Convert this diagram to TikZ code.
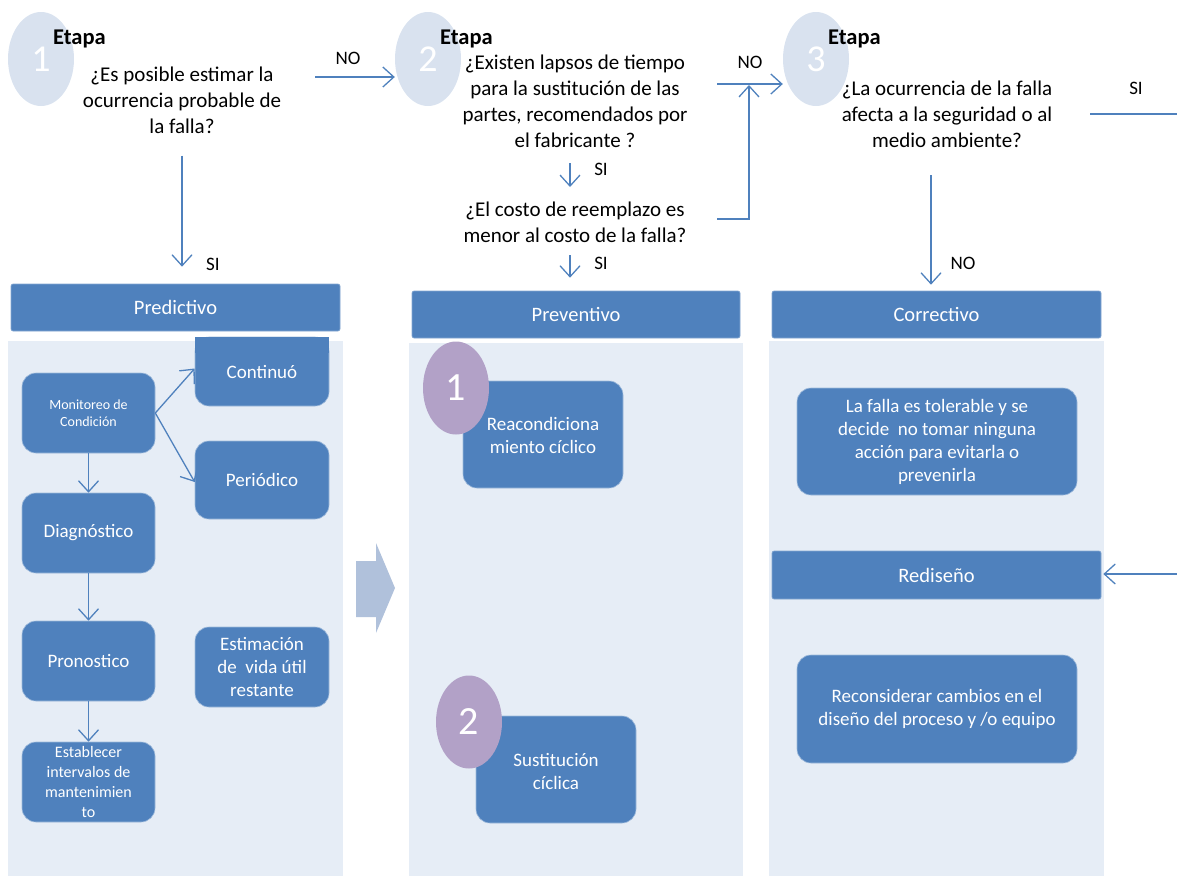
\documentclass[tikz,border=0pt]{standalone}
\usepackage{fontspec}
\setmainfont{Carlito}
\usetikzlibrary{arrows.meta,shapes.geometric}
\definecolor{mblue}{HTML}{4F81BD}
\definecolor{panelbg}{HTML}{E6EDF6}
\definecolor{circbg}{HTML}{D9E2EF}
\definecolor{purp}{HTML}{B2A1C7}
\definecolor{bigarr}{HTML}{B0C1DB}
\begin{document}
\begin{tikzpicture}[x=1pt,y=-1pt,
  qtext/.style={align=center, font=\fontsize{21}{26}\selectfont, inner sep=0pt},
  lbl/.style={font=\fontsize{19}{23}\selectfont, inner sep=0pt},
  etapa/.style={font=\fontsize{22.5}{24}\selectfont\bfseries, inner sep=0pt, anchor=base west},
  stagecirc/.style={ellipse, fill=circbg, minimum width=66pt, minimum height=94pt, inner sep=0pt, text=white, font=\fontsize{38}{40}\selectfont},
  numcirc/.style={ellipse, fill=purp, minimum width=66pt, minimum height=93pt, inner sep=0pt, text=white, font=\fontsize{40}{42}\selectfont},
  header/.style={fill=mblue, draw=mblue!70!white, line width=0.6pt, rounded corners=2pt, text=white, font=\fontsize{20.5}{24}\selectfont, inner sep=0pt},
  rbox/.style={fill=mblue, draw=mblue!55!white, line width=0.6pt, rounded corners=14pt, text=white, align=center, font=\fontsize{19}{23}\selectfont, inner sep=0pt},
  btext/.style={text=white, align=center, font=\fontsize{19}{23}\selectfont, inner sep=0pt},
  arr/.style={draw=mblue, line width=1.3pt, -{Straight Barb[length=11pt,width=20pt,line width=1.3pt]}},
  ln/.style={draw=mblue, line width=1.3pt}
]
\useasboundingbox (0,0) rectangle (1177,876);

% panels
\fill[panelbg] (8,341) rectangle (343,876);
\fill[panelbg] (409,343) rectangle (743,876);
\fill[panelbg] (769,341) rectangle (1104,876);

% stage circles
\node[stagecirc] (c1) at (41,59) {1};
\node[stagecirc] (c2) at (428,59) {2};
\node[stagecirc] (c3) at (816,59) {3};
\node[etapa] (e1) at (53,44) {Etapa};
\node[etapa] (e2) at (440,44) {Etapa};
\node[etapa] (e3) at (828,44) {Etapa};

% questions
\node[qtext] (q1) at (182,100) {¿Es posible estimar la\\ocurrencia probable de\\la falla?};
\node[qtext] (q2) at (575,101) {¿Existen lapsos de tiempo\\para la sustitución de las\\partes, recomendados por\\el fabricante ?};
\node[qtext] (q3) at (575,222) {¿El costo de reemplazo es\\menor al costo de la falla?};
\node[qtext] (q4) at (947,114) {¿La ocurrencia de la falla\\afecta a la seguridad o al\\medio ambiente?};

% headers
\node[header, minimum width=329pt, minimum height=47pt] (pred) at (175.5,307.5) {Predictivo};
\node[header, minimum width=328pt, minimum height=47pt] (prev) at (576,314.5) {Preventivo};
\node[header, minimum width=329pt, minimum height=47pt] (corr) at (936.5,314.5) {Correctivo};
\node[header, minimum width=329pt, minimum height=48pt] (redis) at (936.5,575) {Rediseño};

% predictive boxes
\node[rbox, minimum width=133pt, minimum height=80pt, font=\fontsize{14}{17}\selectfont] (mon) at (88.5,413) {Monitoreo de\\Condición};
\node[rbox, minimum width=134pt, minimum height=69pt] (cont) at (262,371.5) {};
\fill[mblue] (cont.north west) rectangle ([yshift=-16pt]cont.north east);
\node[btext] (contt) at (cont.center) {Continuó};
\node[rbox, minimum width=134pt, minimum height=78pt] (per) at (262,480) {Periódico};
\node[rbox, minimum width=133pt, minimum height=80pt] (diag) at (88.5,533) {Diagnóstico};
\node[rbox, minimum width=133pt, minimum height=80pt] (pron) at (88.5,661) {Pronostico};
\node[rbox, minimum width=134pt, minimum height=80pt] (est) at (262,667) {Estimación\\de\ \ vida útil\\restante};
\node[rbox, minimum width=133pt, minimum height=80pt, font=\fontsize{16}{20}\selectfont] (estab) at (88.5,782) {Establecer\\intervalos de\\mantenimien\\to};

% preventive boxes
\node[rbox, minimum width=160pt, minimum height=107pt] (reac) at (543,434.5) {};
\node[btext] (react) at (543,435.5) {Reacondiciona\\miento cíclico};
\node[numcirc] (n1) at (456,388) {1};
\node[rbox, minimum width=160pt, minimum height=107pt] (sust) at (556,769.5) {};
\node[btext] (sustt) at (556,771) {Sustitución\\cíclica};
\node[numcirc] (n2) at (469,722) {2};

% corrective boxes
\node[rbox, minimum width=280pt, minimum height=107pt] (tol) at (937,441.5) {La falla es tolerable y se\\decide\ \ no tomar ninguna\\acción para evitarla o\\prevenirla};
\node[rbox, minimum width=280pt, minimum height=108pt] (recon) at (937,709) {Reconsiderar cambios en el\\diseño del proceso y /o equipo};

% big arrow
\fill[bigarr] (356,561) -- (376,561) -- (376,543) -- (395,588) -- (376,633) -- (376,617) -- (356,617) -- cycle;

% connectors top
\coordinate (noA) at (315,77);
\draw[arr] (noA) -- (c2.west |- noA);
\node[lbl] at (348,58) {NO};

\draw[arr, shorten <=22pt, shorten >=17pt] (q1.south) -- (q1.south |- pred.north);
\node[lbl] at (213,264) {SI};

\coordinate (s2a) at (570,163);
\coordinate (s2b) at (570,187);
\draw[arr] (s2a) -- (s2b);
\node[lbl] at (601,169) {SI};
\coordinate (s3) at (570,255);
\draw[arr, shorten >=13pt] (s3) -- (s3 |- prev.north);
\node[lbl] at (601,263) {SI};

\coordinate (noB) at (717,84);
\draw[arr] (noB) -- (c3.west |- noB);
\node[lbl] at (750,62) {NO};
\coordinate (loopS) at (717,219);
\draw[arr] (loopS) -- (749,219) -- (749,85);

\coordinate (siL) at (1090,114);
\coordinate (siR) at (1177,114);
\draw[ln] (siL) -- (siR);
\node[lbl] at (1136,88) {SI};

\coordinate (s4) at (931,175);
\draw[arr, shorten >=6pt] (s4) -- (s4 |- corr.north);
\node[lbl] at (963,263) {NO};

\coordinate (redR) at (1177,574);
\draw[arr] (redR) -- ([xshift=2pt]redis.east |- redR);

% predictive connectors
\draw[arr] (mon.east) -- ([yshift=3pt]cont.west);
\draw[arr] (mon.east) -- ([yshift=-2pt]per.west);
\draw[arr] (mon.south) -- (diag.north);
\draw[arr] (diag.south) -- (pron.north);
\draw[arr] (pron.south) -- (estab.north);
\end{tikzpicture}
\end{document}
